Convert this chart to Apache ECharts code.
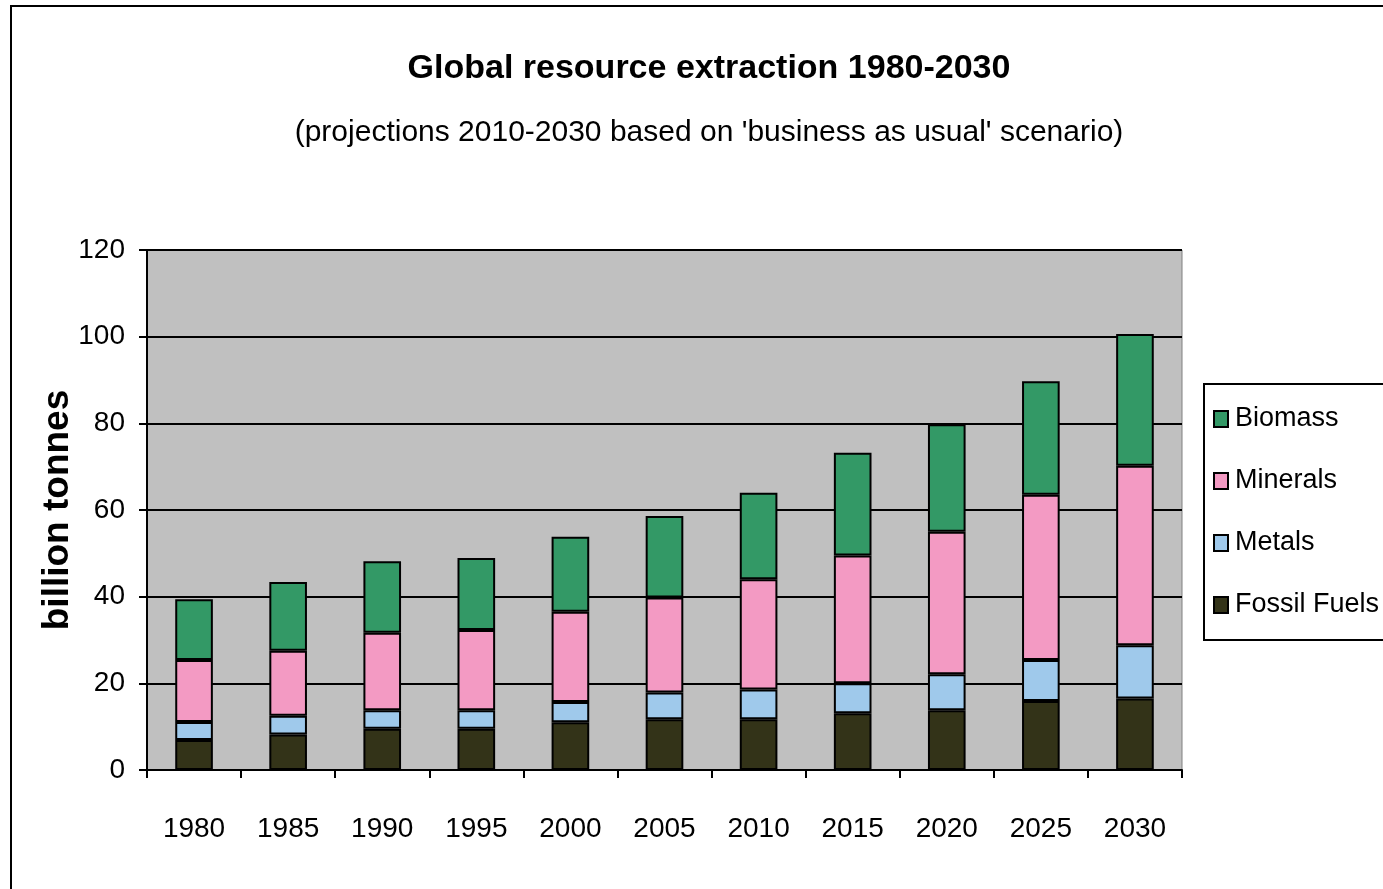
<!DOCTYPE html>
<html>
<head>
<meta charset="utf-8">
<script src="https://cdn.jsdelivr.net/npm/echarts@6/dist/echarts.min.js"></script>
<style>
html,body{margin:0;padding:0;background:#fff;}
#chart{width:1383px;height:889px;}
</style>
</head>
<body>
<div id="chart"></div>
<script>
const years = ['1980','1985','1990','1995','2000','2005','2010','2015','2020','2025','2030'];
const fossilFuels = [6.9, 8.2, 9.5, 9.5, 11.0, 11.7, 11.7, 13.1, 13.8, 15.9, 16.5];
const metals      = [4.2, 4.3, 4.3, 4.3, 4.7, 6.2, 6.9, 6.9, 8.3, 9.5, 12.3];
const minerals    = [14.3, 15.0, 17.9, 18.5, 20.8, 21.9, 25.4, 29.5, 32.9, 38.1, 41.4];
const biomass     = [14.0, 15.9, 16.5, 16.6, 17.3, 18.8, 20.0, 23.7, 24.8, 26.2, 30.4];
const yTicks = [0, 20, 40, 60, 80, 100, 120];

const FONT = '"Liberation Sans Narrow", "Arial Narrow", "Liberation Sans", Arial, sans-serif';
const chart = echarts.init(document.getElementById('chart'));

function bar(name, data, color) {
  return {
    name: name, type: 'bar', stack: 'total', data: data, barWidth: '40%',
    itemStyle: { color: color, borderColor: '#000', borderWidth: 2 },
    emphasis: { disabled: true }
  };
}

chart.setOption({
  animation: false,
  backgroundColor: '#fff',
  title: [
    { text: 'Global resource extraction 1980-2030', left: 704, top: 47, textAlign: 'center',
      textStyle: { fontFamily: FONT, fontWeight: 'bold', fontSize: 34, color: '#000' } },
    { text: "(projections 2010-2030 based on 'business as usual' scenario)", left: 704, top: 113, textAlign: 'center',
      textStyle: { fontFamily: FONT, fontWeight: 'normal', fontSize: 30, color: '#000' } }
  ],
  graphic: [
    { type: 'rect', shape: { x: 11, y: 6, width: 1600, height: 1200 }, style: { fill: 'none', stroke: '#000', lineWidth: 2 }, z: 100 }
  ],
  legend: {
    orient: 'vertical', left: 1204, top: 384,
    data: ['Biomass', 'Minerals', 'Metals', 'Fossil Fuels'],
    backgroundColor: '#fff', borderColor: '#000', borderWidth: 2,
    padding: [19, 40, 19, 9],
    itemWidth: 14, itemHeight: 16, itemGap: 30,
    icon: 'rect',
    textStyle: { fontFamily: FONT, fontSize: 27, color: '#000', lineHeight: 32, padding: [0, 0, 0, 2] }
  },
  grid: { left: 147, right: 201, top: 250, bottom: 119, show: true, backgroundColor: '#C0C0C0', borderColor: '#808080', borderWidth: 1 },
  xAxis: {
    type: 'category', data: years,
    axisLine: { lineStyle: { color: '#000', width: 2 } },
    axisTick: { show: true, length: 8, lineStyle: { color: '#000', width: 2 } },
    axisLabel: { interval: 0, fontFamily: FONT, fontSize: 28, color: '#000', margin: 45 }
  },
  yAxis: {
    type: 'value', min: yTicks[0], max: yTicks[yTicks.length - 1], interval: 20,
    name: 'billion tonnes', nameLocation: 'middle', nameGap: 89, nameRotate: 90, nameMoveOverlap: false,
    nameTextStyle: { fontFamily: '"Liberation Sans", Arial, sans-serif', fontWeight: 'bold', fontSize: 37, color: '#000', verticalAlign: 'middle' },
    axisLine: { show: true, lineStyle: { color: '#000', width: 2 } },
    axisTick: { show: true, inside: false, length: 8, lineStyle: { color: '#000', width: 2 } },
    axisLabel: { fontFamily: FONT, fontSize: 28, color: '#000', margin: 22 },
    splitLine: { show: true, lineStyle: { color: '#000', width: 2 } }
  },
  series: [
    bar('Fossil Fuels', fossilFuels, '#333318'),
    bar('Metals', metals, '#9FC9EB'),
    bar('Minerals', minerals, '#F39AC3'),
    bar('Biomass', biomass, '#339966')
  ]
});
</script>
</body>
</html>
